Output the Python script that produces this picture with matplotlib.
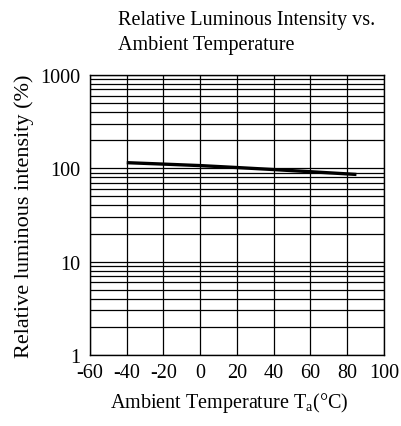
import matplotlib

matplotlib.use("Agg")
import matplotlib.pyplot as plt
from matplotlib.ticker import FixedLocator, LogLocator, NullFormatter

plt.rcParams.update({
    "font.family": "Liberation Serif",
    "font.size": 14.5,
    "mathtext.fontset": "custom",
    "mathtext.rm": "Liberation Serif",
})

# relative luminous intensity vs ambient temperature
temp_c = [-40, -20, 0, 20, 40, 60, 85]
intensity_pct = [115, 111, 107, 102, 97, 92, 86]

x_ticks = [-60, -40, -20, 0, 20, 40, 60, 80, 100]
y_ticks = [1, 10, 100, 1000]
y_labels = ["1", "10", "100", "1000"]

fig = plt.figure(figsize=(4.01, 4.27), dpi=100)
ax = fig.add_axes([0.2244, 0.1663, 0.7332, 0.6557])

ax.plot(temp_c, intensity_pct, color="black", lw=2.4, solid_capstyle="butt", zorder=3)

ax.set_yscale("log")
ax.set_xlim(-60, 100)
ax.set_ylim(1, 1000)
ax.xaxis.set_major_locator(FixedLocator(x_ticks))
ax.set_xticklabels([str(v) for v in x_ticks])
ax.yaxis.set_major_locator(FixedLocator(y_ticks))
ax.set_yticklabels(y_labels)
ax.yaxis.set_minor_locator(LogLocator(base=10, subs=range(2, 10)))
ax.yaxis.set_minor_formatter(NullFormatter())

ax.grid(True, which="major", axis="both", color="black", lw=0.9)
ax.grid(True, which="minor", axis="y", color="black", lw=0.9)
ax.tick_params(which="both", length=0, labelsize=14.5)
ax.tick_params(axis="x", pad=6)
ax.tick_params(axis="y", pad=7)
for s in ax.spines.values():
    s.set_linewidth(1.0)
    s.set_color("black")

ax.set_ylabel("Relative luminous intensity (%)", fontsize=16)
ax.yaxis.set_label_coords(-0.192, 0.5)
ax.set_xlabel(r"Ambient Temperature T$_{\mathrm{a}}$(°C)", fontsize=14.5)
ax.xaxis.set_label_coords(0.473, -0.125)

fig.text(0.294, 0.953, "Relative Luminous Intensity vs.", fontsize=14.5, va="center", ha="left")
fig.text(0.294, 0.893, "Ambient Temperature", fontsize=14.5, va="center", ha="left")

fig.savefig("out.png", dpi=100)
